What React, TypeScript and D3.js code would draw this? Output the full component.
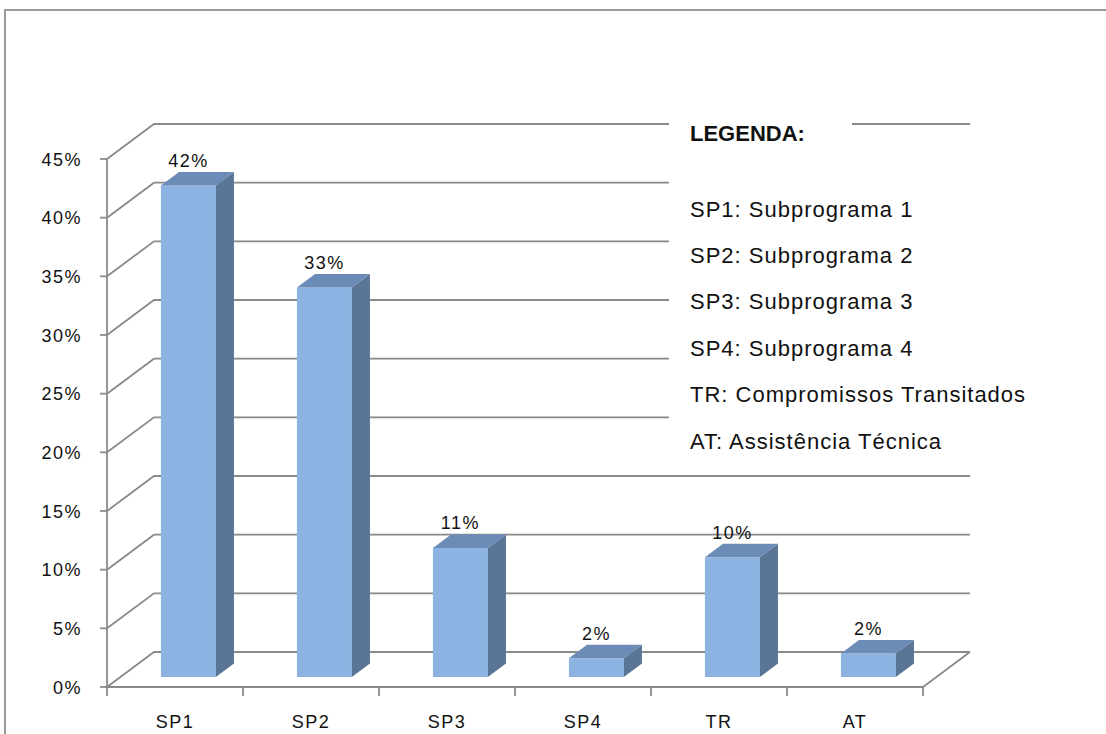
// @ts-nocheck

import React from 'react'
import * as d3 from 'd3'

const categories = ['SP1', 'SP2', 'SP3', 'SP4', 'TR', 'AT']
const values = [41.9, 33.2, 11.0, 1.6, 10.2, 2.0]
const yTicks = [0, 5, 10, 15, 20, 25, 30, 35, 40, 45]
const legendTitle = 'LEGENDA:'
const legendItems = [
  'SP1: Subprograma 1',
  'SP2: Subprograma 2',
  'SP3: Subprograma 3',
  'SP4: Subprograma 4',
  'TR: Compromissos Transitados',
  'AT: Assistência Técnica',
]

const W = 1106
const H = 734
// 3d depth vector of the whole floor
const DX = 47
const DY = -35
// bar front / back position along the depth
const T0 = 0.285
const T1 = 0.67

const gridColor = '#8a8a8a'
const font = '"Liberation Sans", Arial, sans-serif'

const App = () => {
  const x = d3.scaleBand().domain(categories).range([107, 923]).paddingInner(0.596).paddingOuter(0.298)
  const xAxis = d3.scaleBand().domain(categories).range([107, 923]).padding(0)
  const y = d3.scaleLinear().domain([0, 45]).range([687, 159])

  const x0 = xAxis.range()[0]
  const x1 = xAxis.range()[1]
  const bdx = (T1 - T0) * DX
  const bdy = (T1 - T0) * DY

  const tickXs = categories.map((c) => xAxis(c)).concat([x1])

  return (
    <svg width={W} height={H} style={{ position: 'absolute', left: 0, top: 0, background: '#fff' }}>
      {/* outer frame */}
      <path d={`M5,${H} L5,10 L${W},10`} fill="none" stroke="#9a9a9a" strokeWidth={2} />

      {/* side wall + back wall grid lines */}
      <g stroke={gridColor} strokeWidth={1.8} fill="none">
        {yTicks.map((t) => (
          <path
            key={t}
            d={`M${x0},${y(t)} L${x0 + DX},${y(t) + DY} L${x1 + DX},${y(t) + DY}`}
          />
        ))}
        {/* floor */}
        <path d={`M${x1},${y(0)} L${x1 + DX},${y(0) + DY}`} />
      </g>

      {/* legend boxes (hide the grid behind them) */}
      <rect x={669} y={112} width={183} height={40} fill="#fff" />
      <rect x={669} y={165} width={380} height={298} fill="#fff" />
      <g fontFamily={font} fill="#111">
        <text x={690} y={141} fontSize={22} fontWeight="bold">
          {legendTitle}
        </text>
        {legendItems.map((s, i) => (
          <text key={s} x={690} y={216.5 + i * 46.4} fontSize={22} letterSpacing={1}>
            {s}
          </text>
        ))}
      </g>

      {/* bars */}
      {categories.map((c, i) => {
        const v = values[i]
        const left = x(c) + T0 * DX
        const right = left + x.bandwidth()
        const top = y(v) + T0 * DY
        const bottom = y(0) + T0 * DY
        return (
          <g key={c}>
            <rect x={left} y={top} width={x.bandwidth()} height={bottom - top} fill="#8DB3E2" />
            <polygon
              points={`${right},${bottom} ${right},${top} ${right + bdx},${top + bdy} ${right + bdx},${bottom + bdy}`}
              fill="#5B7596"
            />
            <polygon
              points={`${left},${top} ${right},${top} ${right + bdx},${top + bdy} ${left + bdx},${top + bdy}`}
              fill="#6C8CB8"
            />
            <text
              x={(left + right) / 2}
              y={top + bdy - 5}
              textAnchor="middle"
              fontFamily={font}
              fontSize={18}
              letterSpacing={1.5}
              fill="#111"
            >
              {`${Math.round(v)}%`}
            </text>
          </g>
        )
      })}

      {/* front axes */}
      <g stroke={gridColor} strokeWidth={1.8} fill="none">
        <line x1={x0} x2={x0} y1={y(45)} y2={y(0)} />
        <line x1={x0} x2={x1} y1={y(0)} y2={y(0)} />
        {yTicks.map((t) => (
          <line key={t} x1={x0 - 7} x2={x0} y1={y(t)} y2={y(t)} />
        ))}
        {tickXs.map((tx, i) => (
          <line key={i} x1={tx} x2={tx} y1={y(0)} y2={y(0) + 9} />
        ))}
      </g>

      <g fontFamily={font} fontSize={18} fill="#111" letterSpacing={1.5}>
        {yTicks.map((t) => (
          <text key={t} x={82} y={y(t) + 6.5} textAnchor="end">
            {`${t}%`}
          </text>
        ))}
        {categories.map((c) => (
          <text key={c} x={xAxis(c) + xAxis.bandwidth() / 2} y={728} textAnchor="middle">
            {c}
          </text>
        ))}
      </g>
    </svg>
  )
}

export default App
